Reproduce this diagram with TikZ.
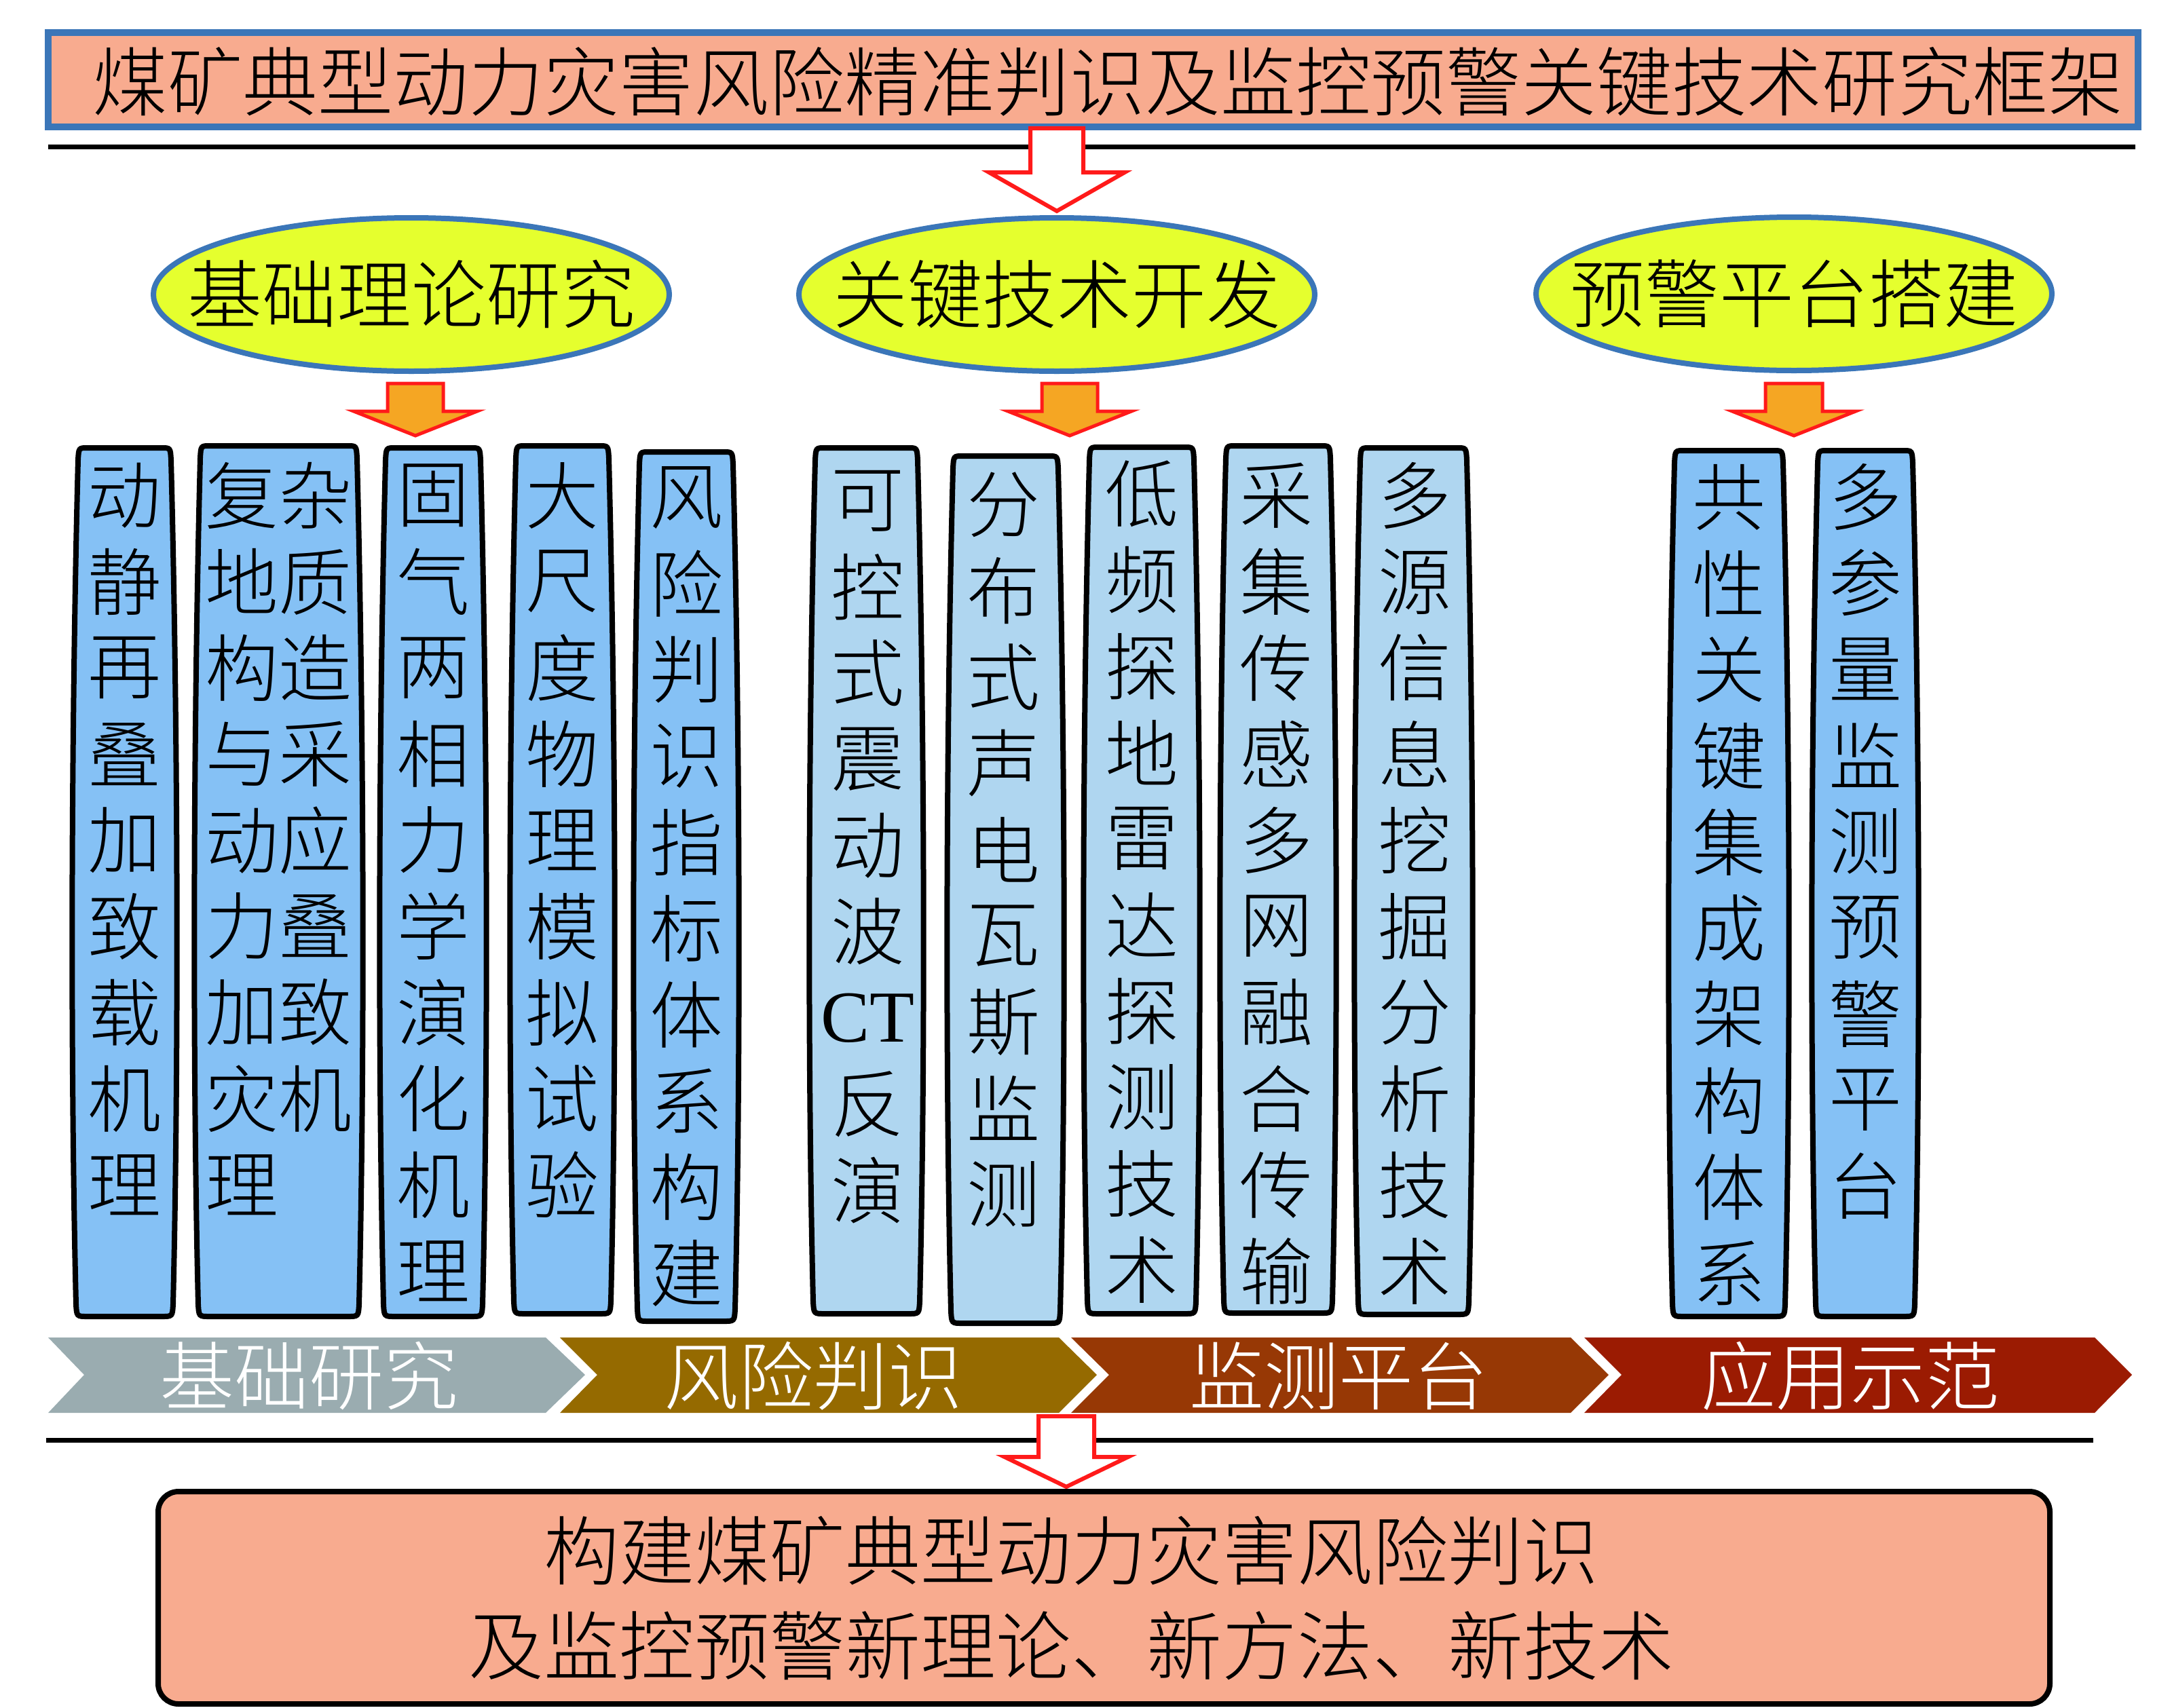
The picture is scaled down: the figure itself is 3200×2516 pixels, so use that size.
\documentclass[tikz,border=0pt]{standalone}
\usepackage{fontspec}
\setmainfont{Noto Sans CJK SC Light}
\newfontfamily\latinserif{Liberation Serif}
\usetikzlibrary{shapes.geometric}
\definecolor{salmon}{HTML}{F8AB8F}
\definecolor{titleblue}{HTML}{3B76B8}
\definecolor{ellyellow}{HTML}{E5FF2E}
\definecolor{colblue}{HTML}{85C1F5}
\definecolor{colpale}{HTML}{AFD6F0}
\definecolor{arrowred}{HTML}{FF1A1A}
\definecolor{arroworange}{HTML}{F5A623}
\definecolor{ribA}{HTML}{9AACB0}
\definecolor{ribB}{HTML}{956A00}
\definecolor{ribC}{HTML}{973805}
\definecolor{ribD}{HTML}{9B1B02}
\newcommand\blockarr[7]{\draw[#1] (#2-#3,#4) -- (#2+#3,#4) -- (#2+#3,#5) -- (#2+#6,#5) -- (#2,#7) -- (#2-#6,#5) -- (#2-#3,#5) -- cycle;}
\tikzset{
  ell/.style={ellipse, draw=titleblue, line width=4pt, fill=ellyellow, minimum width=380pt, minimum height=113pt, inner sep=0pt},
  elltext/.style={inner sep=0pt, font=\fontsize{55pt}{60pt}\selectfont},
  chr/.style={inner sep=0pt, font=\fontsize{54pt}{60pt}\selectfont},
  ribtext/.style={inner sep=0pt, text=white, font=\fontsize{55pt}{60pt}\selectfont},
  colline/.style={draw=black, line width=4pt},
  sepline/.style={draw=black, line width=3.5pt},
  hollowarrow/.style={draw=arrowred, fill=white, line width=3pt, miter limit=10},
  orangearrow/.style={draw=arrowred, fill=arroworange, line width=2.5pt, miter limit=10},
}
\begin{document}
\begin{tikzpicture}[x=0.5pt,y=-0.5pt]
\useasboundingbox (0,0) rectangle (3200,2516);
% title
\node[draw=titleblue, line width=5pt, fill=salmon, minimum width=1539.5pt, minimum height=69.5pt, inner sep=0pt] (title) at (1610.5,117.5) {};
\node[inner sep=0pt, font=\fontsize{55.4pt}{60pt}\selectfont] (titletext) at (1632,120) {煤矿典型动力灾害风险精准判识及监控预警关键技术研究框架};
\draw[sepline] (71,216) -- (3146,216);
\blockarr{hollowarrow}{1557}{39}{189}{254}{100}{311}
% ellipses
\node[ell] (e1) at (606,434) {};
\node[ell] (e2) at (1557,434) {};
\node[ell] (e3) at (2643,433) {};
\node[elltext] (e1t) at (e1.center) {基础理论研究};
\node[elltext] (e2t) at (e2.center) {关键技术开发};
\node[elltext] (e3t) at (e3.center) {预警平台搭建};
\blockarr{orangearrow}{612}{41}{565}{606}{91}{642}
\blockarr{orangearrow}{1576}{41}{565}{606}{91}{642}
\blockarr{orangearrow}{2643}{42}{565}{606}{91}{642}
% columns
\foreach \xa/\xb/\yt/\yb/\fc in {103/264/656/1944/colblue, 283/538/653/1944/colblue, 556/720/656/1944/colblue, 748/909/653/1940/colblue, 930/1092/662/1951/colblue, 1189/1364/656/1940/colpale, 1392/1571/668/1954/colpale, 1593/1771/655/1940/colpale, 1794/1972/653/1939/colpale, 1992/2173/656/1941/colpale, 2455/2639/660/1944/colblue, 2666/2830/660/1944/colblue}
  \draw[colline, fill=\fc] (\xa+26,\yt+4) -- (\xb-26,\yt+4) .. controls (\xb-13,\yt+4) .. (\xb-12,\yt+22)
     .. controls (\xb-1,\yt+450) and (\xb-1,\yb-350) .. (\xb-9,\yb-22)
     .. controls (\xb-10,\yb-4) .. (\xb-26,\yb-4) -- (\xa+26,\yb-4)
     .. controls (\xa+10,\yb-4) .. (\xa+9,\yb-22)
     .. controls (\xa+1,\yb-350) and (\xa+1,\yt+450) .. (\xa+12,\yt+22)
     .. controls (\xa+13,\yt+4) .. (\xa+26,\yt+4) -- cycle;
\foreach \ch [count=\i from 0] in {动,静,再,叠,加,致,载,机,理} \node[chr] (k1-\i) at (183,730+127*\i) {\ch};
\foreach \ch [count=\i from 0] in {复杂,地质,构造,与采,动应,力叠,加致,灾机} \node[chr] (k2-\i) at (410,730+127*\i) {\ch};
\node[chr, anchor=west] (k2-8) at (302,1746) {理};
\foreach \ch [count=\i from 0] in {固,气,两,相,力,学,演,化,机,理} \node[chr] (k3-\i) at (638,730+127*\i) {\ch};
\foreach \ch [count=\i from 0] in {大,尺,度,物,理,模,拟,试,验} \node[chr] (k4-\i) at (828,730+127*\i) {\ch};
\foreach \ch [count=\i from 0] in {风,险,判,识,指,标,体,系,构,建} \node[chr] (k5-\i) at (1011,733+127*\i) {\ch};
\foreach \ch [count=\i from 0] in {可,控,式,震,动,波,{\latinserif CT},反,演} \node[chr] (k6-\i) at (1278,738+127*\i) {\ch};
\foreach \ch [count=\i from 0] in {分,布,式,声,电,瓦,斯,监,测} \node[chr] (k7-\i) at (1478,744+127*\i) {\ch};
\foreach \ch [count=\i from 0] in {低,频,探,地,雷,达,探,测,技,术} \node[chr] (k8-\i) at (1682,728+127*\i) {\ch};
\foreach \ch [count=\i from 0] in {采,集,传,感,多,网,融,合,传,输} \node[chr] (k9-\i) at (1880,730+127*\i) {\ch};
\foreach \ch [count=\i from 0] in {多,源,信,息,挖,掘,分,析,技,术} \node[chr] (k10-\i) at (2084,730+127*\i) {\ch};
\foreach \ch [count=\i from 0] in {共,性,关,键,集,成,架,构,体,系} \node[chr] (k11-\i) at (2547,733+127*\i) {\ch};
\foreach \ch [count=\i from 0] in {多,参,量,监,测,预,警,平,台} \node[chr] (k12-\i) at (2748,732+127*\i) {\ch};
% ribbons
\fill[ribA] (71,1971) -- (804,1971) -- (862,2026) -- (804,2082) -- (71,2082) -- (124,2026) -- cycle;
\fill[ribB] (825,1971) -- (1560,1971) -- (1616,2026) -- (1560,2082) -- (825,2082) -- (880,2026) -- cycle;
\fill[ribC] (1578,1971) -- (2314,1971) -- (2370,2026) -- (2314,2082) -- (1578,2082) -- (1634,2026) -- cycle;
\fill[ribD] (2334,1971) -- (3086,1971) -- (3141,2026) -- (3086,2082) -- (2334,2082) -- (2389,2026) -- cycle;
\node[ribtext] (r1) at (455,2028) {基础研究};
\node[ribtext] (r2) at (1198,2028) {风险判识};
\node[ribtext] (r3) at (1972,2028) {监测平台};
\node[ribtext] (r4) at (2726,2028) {应用示范};
% bottom
\draw[sepline] (68,2122) -- (3084,2122);
\blockarr{hollowarrow}{1571}{41}{2087}{2147}{91}{2191}
\node[draw=black, line width=4pt, fill=salmon, rounded corners=15pt, minimum width=1393.5pt, minimum height=156.5pt, inner sep=0pt] (goal) at (1626.5,2354.5) {};
\node[inner sep=0pt, align=center, font=\fontsize{55.5pt}{70pt}\selectfont] (goaltext) at (1578,2355) {构建煤矿典型动力灾害风险判识\\及监控预警新理论、新方法、新技术};
\end{tikzpicture}
\end{document}
